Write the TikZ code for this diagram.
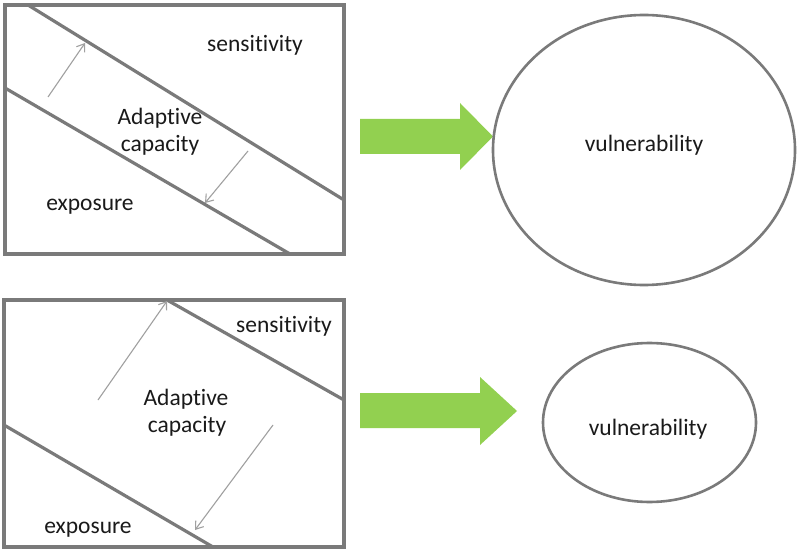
\documentclass[tikz,border=0pt]{standalone}
\usepackage{fontspec}
\setmainfont{Carlito}[Ligatures={NoCommon,NoContextual,NoRare}]
\usetikzlibrary{arrows.meta,shapes.geometric}
\definecolor{linegray}{HTML}{7A7A7A}
\definecolor{thingray}{HTML}{A0A0A0}
\definecolor{officegreen}{HTML}{92D050}
\definecolor{txt}{HTML}{1A1A1A}
\tikzset{
  frame/.style={draw=linegray, line width=3.2bp},
  divider/.style={draw=linegray, line width=3.2bp, line cap=round},
  shift arrow/.style={draw=thingray, line width=1.1bp, -{Straight Barb[length=7bp,width=10bp]}},
  label/.style={font=\fontsize{23.5bp}{27bp}\selectfont, text=txt, anchor=base, inner sep=0pt},
  vuln/.style={draw=linegray, line width=2.6bp, ellipse},
  bigarrow/.style={fill=officegreen, draw=none},
}
\begin{document}
\begin{tikzpicture}[x=1bp, y=-1bp]
\useasboundingbox (0,0) rectangle (798,552);
\fill[white] (0,0) rectangle (798,552);

% ---------- top panel ----------
\draw[frame] (5,5) rectangle (344,254);
\coordinate (t-up-a) at (28,5);
\coordinate (t-up-b) at (344,200);
\coordinate (t-lo-a) at (5,88);
\coordinate (t-lo-b) at (290,254);
\draw[divider] (t-up-a) -- (t-up-b);
\draw[divider] (t-lo-a) -- (t-lo-b);
\coordinate (t-a1s) at (48,97);
\coordinate (t-a1e) at (85,43);
\coordinate (t-a2s) at (248,151);
\coordinate (t-a2e) at (205,203);
\draw[shift arrow] (t-a1s) -- (t-a1e);
\draw[shift arrow] (t-a2s) -- (t-a2e);
\node[label] (t-sens) at (255,52) {sensitivity};
\node[label] (t-adap) at (160,125) {Adaptive};
\node[label] (t-cap) at (160,152) {capacity};
\node[label] (t-exp) at (90,211) {exposure};

\fill[bigarrow] (360,119) -- (460,119) -- (460,103) -- (493,136.5) -- (460,170) -- (460,154) -- (360,154) -- cycle;

\node[vuln, minimum width=302bp, minimum height=270bp] (v-big) at (644,150) {};
\node[label] (v-big-t) at (644,152) {vulnerability};

% ---------- bottom panel ----------
\draw[frame] (4,300) rectangle (344,547);
\coordinate (b-up-a) at (167,300);
\coordinate (b-up-b) at (344,400);
\coordinate (b-lo-a) at (4,425);
\coordinate (b-lo-b) at (213,547);
\draw[divider] (b-up-a) -- (b-up-b);
\draw[divider] (b-lo-a) -- (b-lo-b);
\coordinate (b-a1s) at (98,400);
\coordinate (b-a1e) at (167,301);
\coordinate (b-a2s) at (273,425);
\coordinate (b-a2e) at (195,530);
\draw[shift arrow] (b-a1s) -- (b-a1e);
\draw[shift arrow] (b-a2s) -- (b-a2e);
\node[label] (b-sens) at (284,332) {sensitivity};
\node[label] (b-adap) at (186,405) {Adaptive};
\node[label] (b-cap) at (187,432) {capacity};
\node[label] (b-exp) at (88,533) {exposure};

\fill[bigarrow] (360,393) -- (480,393) -- (480,377) -- (517,411) -- (480,445) -- (480,428) -- (360,428) -- cycle;

\node[vuln, minimum width=213bp, minimum height=159bp] (v-small) at (649.5,422.5) {};
\node[label] (v-small-t) at (648,435) {vulnerability};
\end{tikzpicture}
\end{document}
